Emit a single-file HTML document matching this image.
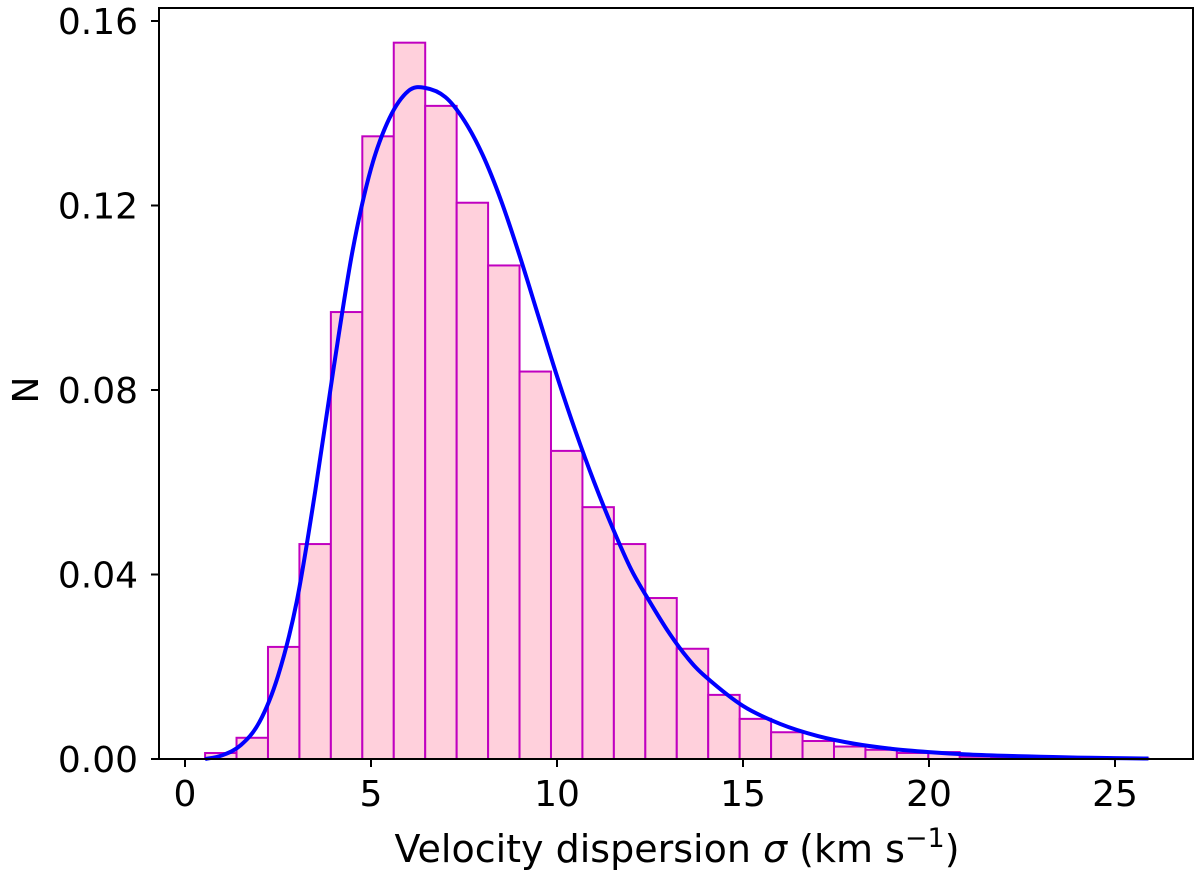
<!DOCTYPE html>
<html><head><meta charset="utf-8"><style>
html,body{margin:0;padding:0;background:#fff;}
svg{display:block;font-family:"DejaVu Sans","Liberation Sans",sans-serif;}
</style></head><body>
<svg id="chart" width="1200" height="877" viewBox="0 0 1200 877" xmlns="http://www.w3.org/2000/svg">
<g id="bars"></g>
<path id="curve" fill="none" stroke="#0000ff" stroke-width="4" stroke-linejoin="round"></path>
<rect x="159" y="8" width="1034" height="751" fill="none" stroke="#000" stroke-width="2"></rect>
<g id="xticks"></g>
<g id="yticks"></g>
<text x="677" y="862" font-size="38" text-anchor="middle">Velocity dispersion <tspan font-style="italic">σ</tspan> (km s<tspan dy="-15" font-size="27">−1</tspan><tspan dy="15">)</tspan></text>
<text transform="translate(38,390) rotate(-90)" font-size="36" text-anchor="middle">N</text>
</svg>
<script>
const binStart = 0.54;
const binWidth = 0.8453;
const binHeights = [0.0013,0.0046,0.0243,0.0466,0.0969,0.135,0.1553,0.1416,0.1206,0.107,0.084,0.0668,0.0546,0.0466,0.0349,0.0239,0.0139,0.0087,0.0058,0.0039,0.0027,0.0020,0.0013,0.0015,0.0005,0.0004,0.0003,0.0002,0.0001,0.0001];
const curveX = [0.54,1,1.5,2,2.5,3,3.5,4,4.5,5,5.5,6,6.45,7,7.5,8,8.5,9,9.5,10,10.5,11,11.5,12,12.5,13,13.5,14,15,16,17,18,19,20,21,22,23,24,25,25.9];
const curveY = [0,0.0008,0.003,0.008,0.018,0.034,0.058,0.085,0.11,0.128,0.139,0.1448,0.1455,0.1435,0.1385,0.131,0.121,0.109,0.096,0.083,0.071,0.06,0.05,0.041,0.034,0.0275,0.022,0.0178,0.0115,0.0076,0.005,0.0033,0.0022,0.0015,0.001,0.0007,0.0005,0.0003,0.0002,0.0001];
const xTicks = [0,5,10,15,20,25];
const yTicks = [0,0.04,0.08,0.12,0.16];
const yTickLabels = ["0.00","0.04","0.08","0.12","0.16"];

const NS="http://www.w3.org/2000/svg";
const X = v => 185 + v*37.2;
const Y = v => 759 - v/0.04*184.5;

const bars=document.getElementById('bars');
binHeights.forEach((h,i)=>{
  const r=document.createElementNS(NS,'rect');
  const x0=X(binStart+i*binWidth), x1=X(binStart+(i+1)*binWidth);
  r.setAttribute('x',x0); r.setAttribute('width',x1-x0);
  r.setAttribute('y',Y(h)); r.setAttribute('height',Y(0)-Y(h));
  r.setAttribute('fill','#ffd0dc'); r.setAttribute('stroke','#c000c0'); r.setAttribute('stroke-width','2');
  
  
  bars.appendChild(r);
});

const pts=curveX.map((x,i)=>[X(x),Y(curveY[i])]);
let d='M'+pts[0][0]+','+pts[0][1];
for(let i=0;i<pts.length-1;i++){
  const p0=pts[Math.max(0,i-1)],p1=pts[i],p2=pts[i+1],p3=pts[Math.min(pts.length-1,i+2)];
  const c1=[p1[0]+(p2[0]-p0[0])/6,p1[1]+(p2[1]-p0[1])/6];
  const c2=[p2[0]-(p3[0]-p1[0])/6,p2[1]-(p3[1]-p1[1])/6];
  d+=' C'+c1+' '+c2+' '+p2;
}
document.getElementById('curve').setAttribute('d',d);

const xg=document.getElementById('xticks');
xTicks.forEach(t=>{
  const l=document.createElementNS(NS,'line');
  l.setAttribute('x1',X(t));l.setAttribute('x2',X(t));l.setAttribute('y1',759);l.setAttribute('y2',767);
  l.setAttribute('stroke','#000');l.setAttribute('stroke-width','2');
  
  
  xg.appendChild(l);
  const tx=document.createElementNS(NS,'text');
  tx.setAttribute('x',X(t));tx.setAttribute('y',806);tx.setAttribute('font-size','36');tx.setAttribute('text-anchor','middle');
  tx.textContent=String(t);
  
  
  xg.appendChild(tx);
});
const yg=document.getElementById('yticks');
yTicks.forEach((t,i)=>{
  const l=document.createElementNS(NS,'line');
  l.setAttribute('x1',151);l.setAttribute('x2',159);l.setAttribute('y1',Y(t));l.setAttribute('y2',Y(t));
  l.setAttribute('stroke','#000');l.setAttribute('stroke-width','2');
  
  
  yg.appendChild(l);
  const tx=document.createElementNS(NS,'text');
  tx.setAttribute('x',138);tx.setAttribute('y',Y(t)+13);tx.setAttribute('font-size','36');tx.setAttribute('text-anchor','end');
  tx.textContent=yTickLabels[i];
  
  
  yg.appendChild(tx);
});
</script>
</body></html>
